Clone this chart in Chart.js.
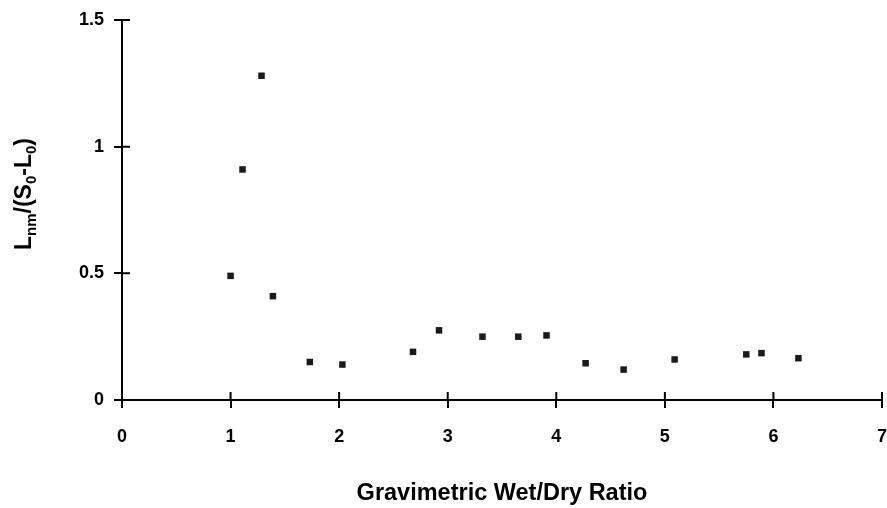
<!DOCTYPE html>
<html>
<head>
<meta charset="utf-8">
<script src="https://cdn.jsdelivr.net/npm/chart.js@4"></script>
<style>
  html, body { margin: 0; padding: 0; background: #fff; }
  canvas { display: block; }
</style>
</head>
<body>
<canvas id="chart" width="887" height="508"></canvas>
<script>
const wetDryRatio = [1.0, 1.11, 1.285, 1.39, 1.73, 2.03, 2.68, 2.92, 3.32, 3.65, 3.91, 4.27, 4.62, 5.09, 5.75, 5.89, 6.23];
const lnmRatio = [0.49, 0.91, 1.28, 0.41, 0.15, 0.14, 0.19, 0.275, 0.25, 0.25, 0.255, 0.145, 0.12, 0.16, 0.18, 0.185, 0.165];

const xTicks = [0, 1, 2, 3, 4, 5, 6, 7];
const yTicks = [0, 0.5, 1, 1.5];

const FONT = "'Liberation Sans', Arial, sans-serif";

// 축 안쪽으로 들어가는 눈금 + 아래첨자가 있는 y축 제목
const innerTicks = {
  id: "innerTicks",
  afterDraw(chart) {
    const ctx = chart.ctx;
    const x = chart.scales.x;
    const y = chart.scales.y;
    ctx.save();
    ctx.strokeStyle = "#000";
    ctx.lineWidth = 2;
    ctx.beginPath();
    xTicks.forEach((v) => {
      const px = x.getPixelForValue(v);
      ctx.moveTo(px, x.top);
      ctx.lineTo(px, x.top - 8);
    });
    yTicks.forEach((v) => {
      const py = y.getPixelForValue(v);
      ctx.moveTo(y.right, py);
      ctx.lineTo(y.right + 8, py);
    });
    ctx.stroke();

    // y축 제목
    const parts = [
      ["L", false], ["nm", true], ["/(S", false], ["0", true],
      ["-L", false], ["0", true], [")", false],
    ];
    const big = "bold 23px " + FONT;
    const small = "bold 15px " + FONT;
    let total = 0;
    parts.forEach(([t, sub]) => {
      ctx.font = sub ? small : big;
      total += ctx.measureText(t).width;
    });
    ctx.translate(31, 194);
    ctx.rotate(-Math.PI / 2);
    ctx.fillStyle = "#000";
    ctx.textBaseline = "alphabetic";
    let cx = -total / 2;
    parts.forEach(([t, sub]) => {
      ctx.font = sub ? small : big;
      ctx.fillText(t, cx, sub ? 5 : 0);
      cx += ctx.measureText(t).width;
    });
    ctx.restore();
  },
};

new Chart(document.getElementById("chart"), {
  type: "scatter",
  data: {
    datasets: [
      {
        data: wetDryRatio.map((v, i) => ({ x: v, y: lnmRatio[i] })),
        backgroundColor: "#1a1a1a",
        borderWidth: 0,
        pointStyle: "rect",
        pointRadius: 4.6,
      },
    ],
  },
  options: {
    responsive: false,
    animation: false,
    layout: {
      padding: { top: 20, right: 5, left: 0, bottom: 0 },
    },
    plugins: {
      legend: { display: false },
      tooltip: { enabled: false },
    },
    scales: {
      x: {
        type: "linear",
        min: 0,
        max: 7,
        afterBuildTicks: (scale) => {
          scale.ticks = xTicks.map((v) => ({ value: v }));
        },
        afterFit: (scale) => {
          scale.height = 108;
          scale.paddingRight = 0;
          scale.paddingLeft = 0;
        },
        border: { color: "#000", width: 2 },
        grid: {
          drawOnChartArea: false,
          color: "#000",
          lineWidth: 2,
          tickLength: 8,
        },
        ticks: {
          color: "#000",
          padding: 18,
          maxRotation: 0,
          font: { family: FONT, size: 18, weight: "bold" },
        },
        title: {
          display: true,
          text: "Gravimetric Wet/Dry Ratio",
          color: "#000",
          font: { family: FONT, size: 23.5, weight: "bold" },
          padding: { top: 0, bottom: 0 },
        },
      },
      y: {
        type: "linear",
        min: 0,
        max: 1.5,
        afterBuildTicks: (scale) => {
          scale.ticks = yTicks.map((v) => ({ value: v }));
        },
        afterFit: (scale) => {
          scale.width = 122;
          scale.paddingTop = 0;
          scale.paddingBottom = 0;
        },
        border: { color: "#000", width: 2 },
        grid: {
          drawOnChartArea: false,
          color: "#000",
          lineWidth: 2,
          tickLength: 8,
        },
        ticks: {
          color: "#000",
          padding: 10,
          callback: (v) => String(v),
          font: { family: FONT, size: 18, weight: "bold" },
        },
      },
    },
  },
  plugins: [innerTicks],
});
</script>
</body>
</html>
